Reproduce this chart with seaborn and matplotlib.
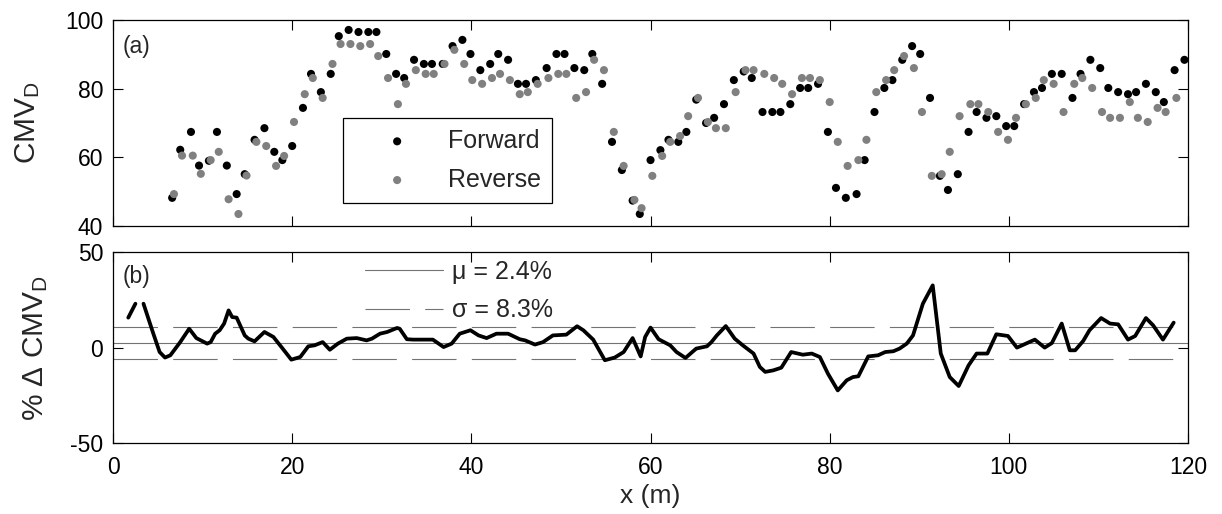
import numpy as np
import pandas as pd
import matplotlib
matplotlib.use("Agg")
import matplotlib.pyplot as plt
from matplotlib.lines import Line2D
import seaborn as sns

# Roller-pass stations (m) and CMV_D readings for the two travel directions
station_x = [6.6, 7.5, 8.7, 9.6, 10.7, 11.6, 12.7, 13.8, 14.7, 15.8, 16.9, 18.0, 18.9,
             20.0, 21.2, 22.1, 23.2, 24.3, 25.2, 26.3, 27.4, 28.5, 29.4, 30.5, 31.6,
             32.5, 33.6, 34.7, 35.6, 36.8, 37.9, 39.0, 39.9, 41.0, 42.1, 43.0, 44.1,
             45.2, 46.1, 47.2, 48.4, 49.5, 50.4, 51.5, 52.6, 53.5, 54.6, 55.7, 56.8,
             58.0, 58.8, 60.0, 61.1, 62.0, 63.1, 64.0, 65.1, 66.2, 67.1, 68.2, 69.3,
             70.4, 71.3, 72.5, 73.6, 74.5, 75.6, 76.7, 77.6, 78.7, 79.8, 80.7, 81.8,
             83.0, 83.9, 85.0, 86.1, 87.0, 88.1, 89.2, 90.1, 91.2, 92.3, 93.2, 94.3,
             95.5, 96.4, 97.5, 98.6, 99.7, 100.6, 101.7, 102.8, 103.7, 104.8, 105.9,
             107.1, 108.0, 109.1, 110.2, 111.1, 112.2, 113.3, 114.2, 115.3, 116.4,
             117.3, 118.5, 119.6]
cmv_forward = [48.2, 62.2, 67.4, 57.6, 59.0, 67.4, 57.6, 49.3, 55.1, 65.1, 68.5, 61.6, 59.2,
               63.3, 74.4, 84.3, 79.0, 84.3, 95.3, 97.1, 96.5, 96.5, 96.5, 90.1, 84.3,
               83.1, 88.4, 87.2, 87.2, 87.2, 92.4, 94.2, 90.1, 85.4, 87.2, 90.1, 88.4,
               81.4, 81.4, 82.5, 86.0, 90.1, 90.1, 86.0, 85.4, 90.1, 81.4, 64.5, 56.3,
               47.4, 43.5, 59.2, 62.1, 65.1, 64.5, 67.4, 76.8, 70.0, 71.5, 75.5, 82.5,
               85.0, 83.1, 73.2, 73.2, 73.2, 75.5, 80.2, 80.2, 81.4, 67.4, 51.1, 48.2,
               49.3, 59.2, 73.2, 80.2, 82.5, 88.4, 92.4, 90.1, 77.3, 54.6, 50.5, 55.1,
               67.4, 73.2, 71.5, 72.0, 69.1, 69.1, 75.5, 79.0, 80.2, 84.3, 84.3,
               77.3, 84.3, 88.4, 86.0, 80.2, 79.0, 78.4, 79.0, 81.4, 79.0,
               76.1, 85.4, 88.4]
cmv_reverse = [49.3, 60.5, 60.5, 55.2, 59.2, 61.6, 47.8, 43.5, 54.7, 64.5, 63.3, 57.5, 60.4,
               70.3, 78.4, 83.1, 77.3, 87.2, 93.0, 93.0, 92.4, 93.0, 89.5, 83.1, 75.5,
               81.4, 85.4, 84.3, 84.3, 87.2, 91.3, 87.2, 82.5, 81.4, 83.1, 84.3, 82.5,
               78.4, 79.0, 81.4, 83.1, 84.3, 84.3, 77.3, 79.0, 88.4, 85.4, 67.4, 57.5,
               47.6, 45.2, 54.6, 60.4, 64.5, 66.2, 72.0, 77.3, 70.3, 68.5, 68.5, 79.0,
               85.4, 85.4, 84.3, 83.1, 81.4, 78.4, 83.1, 83.1, 82.5, 76.1, 64.5, 57.5,
               59.2, 65.1, 79.0, 82.5, 85.4, 89.5, 86.0, 73.2, 54.6, 55.1, 61.6, 72.0,
               75.5, 75.5, 73.2, 67.4, 65.1, 71.5, 75.5, 77.3, 82.5, 81.4, 73.2,
               81.4, 83.1, 80.2, 73.2, 71.5, 71.5, 76.1, 71.5, 70.3, 74.4,
               73.2, 77.3, np.nan]

# Percent difference between the passes along the lane (NaN marks a break)
diff_x = [1.7, 2.5, 2.9, 3.4, 4.5, 5.2, 5.8, 6.4, 7.5, 8.5, 9.3, 10.5, 10.9, 11.4, 11.9,
          12.4, 12.9, 13.3, 13.8, 14.7, 15.1, 15.8, 16.9, 17.9, 18.8, 19.9, 20.9, 21.8,
          22.5, 23.4, 24.2, 25.1, 26.1, 27.2, 28.3, 28.9, 29.8, 30.6, 31.7, 32.0, 32.8,
          33.5, 35.7, 36.9, 37.8, 38.7, 39.9, 40.8, 41.7, 42.8, 44.1, 45.4, 46.0, 47.1,
          48.0, 49.1, 50.6, 51.8, 52.5, 53.6, 54.9, 56.0, 57.0, 58.0, 58.9, 59.4, 60.0,
          60.9, 62.2, 62.9, 63.9, 65.1, 66.3, 66.8, 67.4, 68.4, 69.4, 70.3, 71.5, 72.2,
          72.8, 73.7, 74.6, 75.7, 77.0, 78.0, 78.9, 79.8, 80.9, 81.9, 82.6, 83.2, 84.3,
          85.4, 86.2, 87.1, 87.8, 88.6, 89.3, 90.4, 91.5, 92.4, 93.4, 94.4, 95.5, 96.4,
          97.6, 98.6, 99.9, 100.9, 102.9, 104.0, 104.8, 105.9, 106.8, 107.4, 108.3,
          109.0, 110.3, 111.3, 112.2, 113.3, 114.1, 115.3, 116.1, 117.2, 118.4]
diff_pct = [15.8, 23.1, np.nan, 23.1, 7.4, -2.2, -5.1, -3.9, 3.0, 10.0, 5.1, 2.2, 3.0, 7.4, 9.2,
            12.7, 19.6, 16.1, 15.8, 6.5, 4.8, 3.4, 8.3, 5.7, 0.4, -6.2, -4.8, 0.8,
            1.3, 3.0, -1.0, 2.2, 4.8, 5.1, 3.9, 4.8, 7.4, 8.3, 10.4, 10.0, 4.5,
            4.3, 4.3, 0.4, 2.2, 7.4, 9.2, 6.5, 5.1, 7.4, 7.4, 4.5, 3.9, 1.7,
            3.0, 6.5, 6.9, 11.3, 9.2, 4.3, -6.5, -5.1, -2.2, 5.1, -4.5, 5.7, 10.6,
            4.5, 1.3, -2.2, -5.3, -0.4, 0.8, 3.0, 6.5, 11.4, 4.8, 1.3, -3.0, -10.0,
            -12.6, -11.8, -10.4, -2.2, -3.6, -3.0, -4.8, -13.5, -22.3, -17.0, -15.3, -14.9, -4.5,
            -3.9, -2.2, -1.8, -0.4, 2.2, 6.5, 23.1, 32.7, -3.0, -15.3, -20.0, -9.2, -3.0,
            -3.0, 7.1, 6.2, 0.1, 4.3, 0.1, 2.5, 12.7, -1.3, -1.3, 3.6,
            9.2, 15.6, 12.7, 12.3, 4.3, 6.2, 15.6, 11.8, 4.3, 13.2]
diff_mean = 2.4
diff_std = 8.3

sns.set_theme(style="ticks")
plt.rcParams["font.family"] = ["Liberation Sans", "DejaVu Sans"]
plt.rcParams["mathtext.fontset"] = "custom"
plt.rcParams["mathtext.rm"] = "Liberation Sans"
plt.rcParams["mathtext.it"] = "Liberation Sans:italic"
plt.rcParams["lines.scale_dashes"] = False
plt.rcParams["axes.unicode_minus"] = False
plt.rcParams["axes.edgecolor"] = "black"
plt.rcParams["axes.linewidth"] = 0.9

TICK_FS = 16.5
YLABEL_FS = 21.5
XLABEL_FS = 19
LEGEND_FS = 18
REF_GRAY = "0.45"
DASH = (0, (32, 11))
DOT_SIZE = 34

fig = plt.figure(figsize=(12.22, 5.14), dpi=100)
ax_a = fig.add_axes([0.0925, 0.5603, 0.8797, 0.4008])
ax_b = fig.add_axes([0.0925, 0.1375, 0.8797, 0.3716])

# ---- (a) CMV_D for both passes ----
cmv = pd.DataFrame({"x": station_x, "fwd": cmv_forward, "rev": cmv_reverse})
sns.scatterplot(data=cmv, x="x", y="fwd", ax=ax_a, color="black", s=DOT_SIZE,
                edgecolor="none", linewidth=0, label="Forward", zorder=3)
sns.scatterplot(x=cmv["x"] + 0.2, y=cmv["rev"], ax=ax_a, color="#808080", s=DOT_SIZE,
                edgecolor="none", linewidth=0, label="Reverse", zorder=4)
ax_a.set_xlim(0, 120)
ax_a.set_ylim(40, 100)
ax_a.set_xticks(range(0, 121, 20))
ax_a.set_yticks([40, 60, 80, 100])
ax_a.set_xticklabels([])
ax_a.set_xlabel("")
ax_a.set_ylabel("CMV$_{\\mathrm{D}}$", fontsize=YLABEL_FS)
ax_a.text(0.0093, 0.925, "(a)", transform=ax_a.transAxes, fontsize=TICK_FS,
          ha="left", va="top")
leg_a = ax_a.legend(loc="upper left", bbox_to_anchor=(0.2137, 0.526),
                    borderaxespad=0, fontsize=LEGEND_FS, frameon=True, fancybox=False,
                    framealpha=1, edgecolor="black", borderpad=0.45,
                    handlelength=3.45, handletextpad=0.3, labelspacing=0.59,
                    scatterpoints=1)
leg_a.get_frame().set_linewidth(0.9)

# ---- (b) percent difference with mean and +/- one standard deviation ----
diff = pd.DataFrame({"x": diff_x, "pct": diff_pct})
diff["segment"] = diff["pct"].isna().cumsum()
diff = diff.dropna()
ax_b.axhline(diff_mean, color=REF_GRAY, lw=0.8, zorder=1)
ax_b.axhline(diff_mean + diff_std, color=REF_GRAY, lw=0.8, ls=DASH, zorder=1)
ax_b.axhline(diff_mean - diff_std, color=REF_GRAY, lw=0.8, ls=DASH, zorder=1)
sns.lineplot(data=diff, x="x", y="pct", units="segment", estimator=None, sort=False,
             ax=ax_b, color="black", lw=2.7, zorder=3)
ax_b.set_xlim(0, 120)
ax_b.set_ylim(-50, 50)
ax_b.set_xticks(range(0, 121, 20))
ax_b.set_yticks([-50, 0, 50])
ax_b.set_xlabel("x (m)", fontsize=XLABEL_FS, labelpad=4)
ax_b.set_ylabel("% Δ CMV$_{\\mathrm{D}}$", fontsize=YLABEL_FS)
ax_b.text(0.0093, 0.935, "(b)", transform=ax_b.transAxes, fontsize=TICK_FS,
          ha="left", va="top")
stat_handles = [Line2D([], [], color=REF_GRAY, lw=0.8),
                Line2D([], [], color=REF_GRAY, lw=0.8, ls=DASH)]
ax_b.legend(stat_handles, [f"μ = {diff_mean}%", f"σ = {diff_std}%"],
            loc="upper left", bbox_to_anchor=(0.2344, 0.962), borderaxespad=0,
            frameon=False, fontsize=LEGEND_FS, borderpad=0, handlelength=3.1,
            handletextpad=0.36, labelspacing=0.59)

for ax in (ax_a, ax_b):
    ax.tick_params(direction="in", top=True, right=True, length=7, width=0.8,
                   labelsize=TICK_FS, colors="black")
    ax.tick_params(axis="y", pad=7)
    ax.tick_params(axis="x", pad=9)
    for sp in ax.spines.values():
        sp.set_visible(True)
        sp.set_color("black")
ax_a.yaxis.set_label_coords(-0.066, 0.5)
ax_b.yaxis.set_label_coords(-0.059, 0.5)

fig.savefig("out.png", dpi=100, facecolor="white")
